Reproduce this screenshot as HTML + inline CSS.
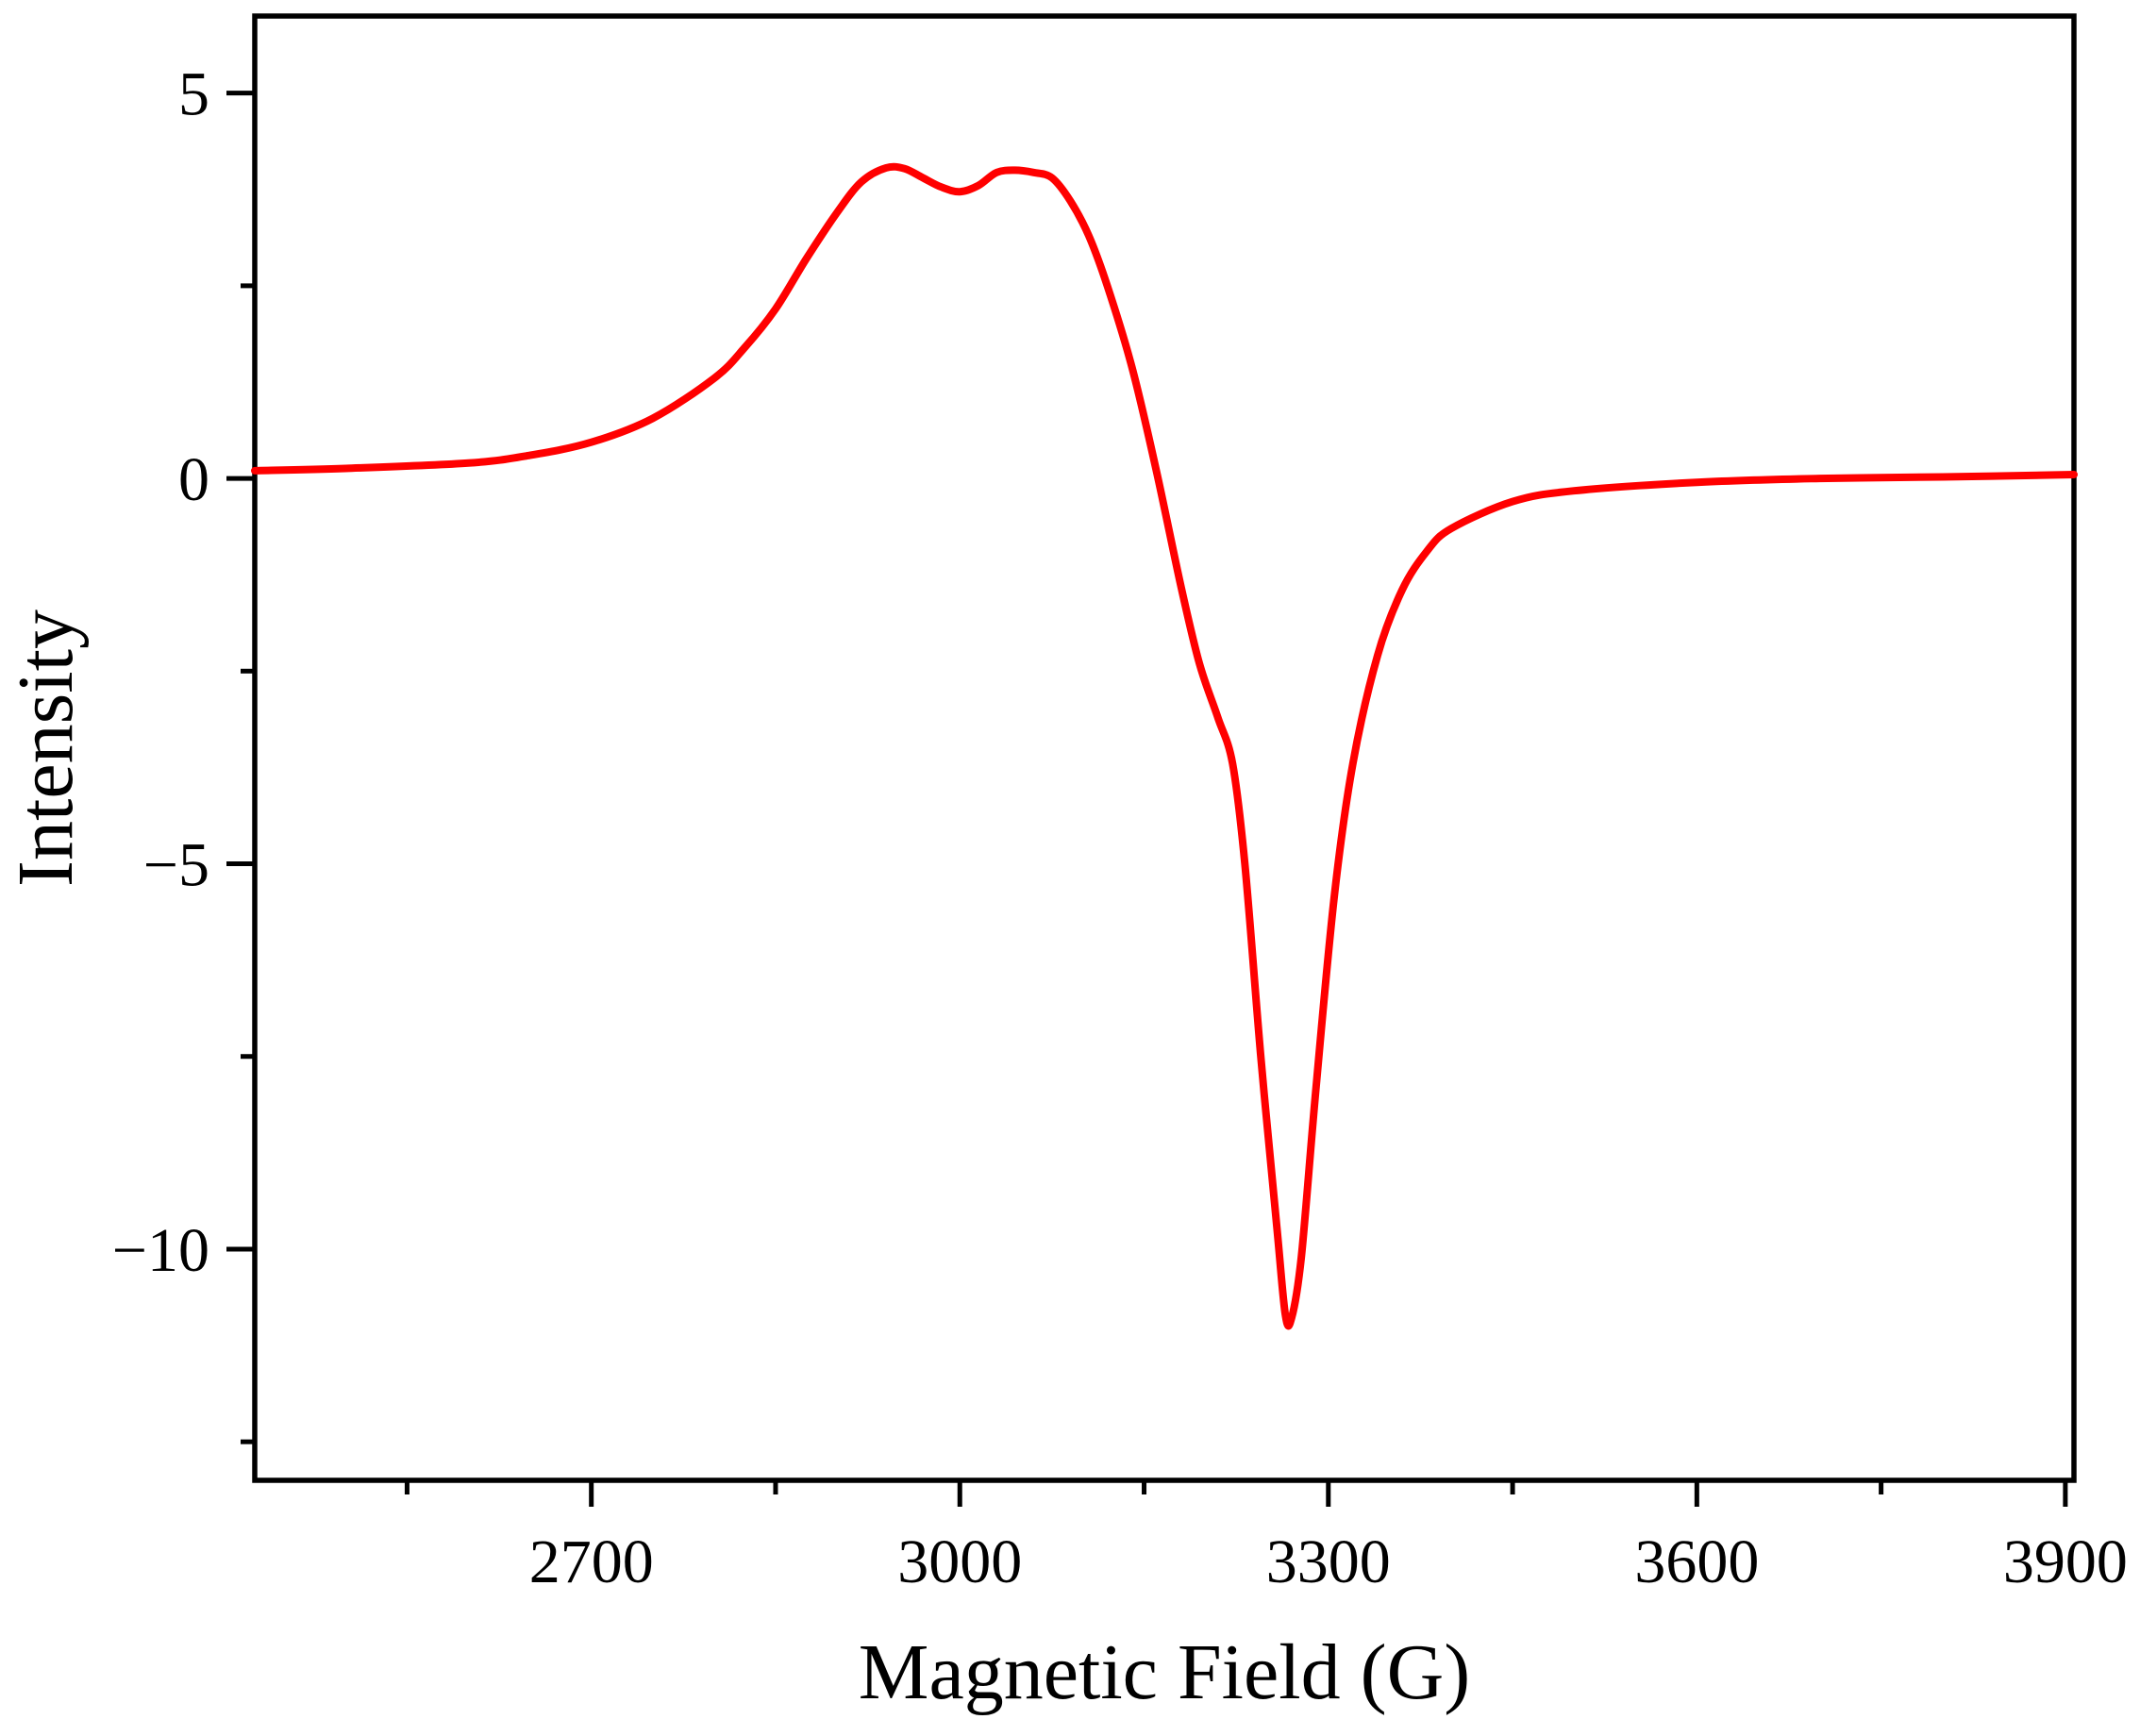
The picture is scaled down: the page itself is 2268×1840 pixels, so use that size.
<!DOCTYPE html>
<html><head><meta charset="utf-8"><style>
html,body{margin:0;padding:0;background:#fff;}
svg text{font-family:"Liberation Serif",serif;fill:#000;}
</style></head><body>
<svg id="chart" width="2268" height="1835" viewBox="0 0 2268 1835" xmlns="http://www.w3.org/2000/svg">
<rect width="2268" height="1835" fill="#fff"/>
<g id="axes"></g>
<path id="curve" fill="none" stroke="#ff0000" stroke-width="8" stroke-linejoin="round" stroke-linecap="round"/>
<text x="1234" y="1800" font-size="84" text-anchor="middle">Magnetic Field (G)</text>
<text transform="translate(76,793) rotate(-90)" font-size="84" text-anchor="middle">Intensity</text>
</svg>
<script>
const fieldG=[2426,2500,2600,2650,2700,2750,2800,2825,2850,2875,2900,2920,2940,2955,2970,2985,3000,3015,3030,3045,3060,3075,3090,3105,3120,3140,3160,3180,3195,3210,3222,3232,3245,3258,3265,3270,3278,3290,3305,3320,3340,3360,3380,3400,3450,3500,3600,3700,3800,3907];
const intensity=[0.10,0.13,0.20,0.30,0.47,0.78,1.3,1.7,2.2,2.85,3.45,3.85,4.03,4.02,3.9,3.78,3.72,3.8,3.97,4.0,3.97,3.9,3.6,3.15,2.5,1.45,0.1,-1.4,-2.4,-3.1,-3.7,-5.0,-7.5,-9.7,-10.85,-10.9,-10.1,-7.9,-5.4,-3.7,-2.3,-1.45,-0.95,-0.65,-0.3,-0.16,-0.05,0.0,0.02,0.05];
const xTicks=[2700,3000,3300,3600,3900];
const xMinor=[2550,2850,3150,3450,3750];
const yTicks=[5,0,-5,-10];
const yMinor=[2.5,-2.5,-7.5,-12.5];

const L=270,R=2198,T=17,B=1569;
const X0=2426,X1=3907,Y0=6,Y1=-13;
const sx=v=>L+(v-X0)/(X1-X0)*(R-L);
const sy=v=>T+(Y0-v)/(Y0-Y1)*(B-T);
const NS="http://www.w3.org/2000/svg";
const ax=document.getElementById('axes');
function mk(tag,attrs){const e=document.createElementNS(NS,tag);for(const k in attrs)e.setAttribute(k,attrs[k]);ax.appendChild(e);return e;}
const frame=mk('rect',{x:L,y:T,width:R-L,height:B-T,fill:'none',stroke:'#000','stroke-width':5.5});


xTicks.forEach(v=>{
 const t=mk('line',{x1:sx(v),x2:sx(v),y1:B,y2:B+28,stroke:'#000','stroke-width':5});
 
 
 const l=mk('text',{x:sx(v),y:B+108,'font-size':66,'text-anchor':'middle'});
 l.textContent=v;
 
 
});
xMinor.forEach(v=>{
 const t=mk('line',{x1:sx(v),x2:sx(v),y1:B,y2:B+15,stroke:'#000','stroke-width':5});
 
 
});
yTicks.forEach(v=>{
 const t=mk('line',{x1:L-30,x2:L,y1:sy(v),y2:sy(v),stroke:'#000','stroke-width':5});
 
 
 const l=mk('text',{x:L-48,y:sy(v)+23,'font-size':66,'text-anchor':'end'});
 l.textContent=v<0?'\u2212'+(-v):String(v);
 
 
});
yMinor.forEach(v=>{
 const t=mk('line',{x1:L-15,x2:L,y1:sy(v),y2:sy(v),stroke:'#000','stroke-width':5});
 
 
});
const P=fieldG.map((g,i)=>[sx(g),sy(intensity[i])]);
let d='M'+P[0][0].toFixed(1)+','+P[0][1].toFixed(1);
for(let i=0;i<P.length-1;i++){
 const p0=P[Math.max(0,i-1)],p1=P[i],p2=P[i+1],p3=P[Math.min(P.length-1,i+2)];
 const c1=[p1[0]+(p2[0]-p0[0])/6,p1[1]+(p2[1]-p0[1])/6];
 const c2=[p2[0]-(p3[0]-p1[0])/6,p2[1]-(p3[1]-p1[1])/6];
 d+=' C'+c1.map(n=>n.toFixed(1)).join(',')+' '+c2.map(n=>n.toFixed(1)).join(',')+' '+p2.map(n=>n.toFixed(1)).join(',');
}
document.getElementById('curve').setAttribute('d',d);
</script>
</body></html>
